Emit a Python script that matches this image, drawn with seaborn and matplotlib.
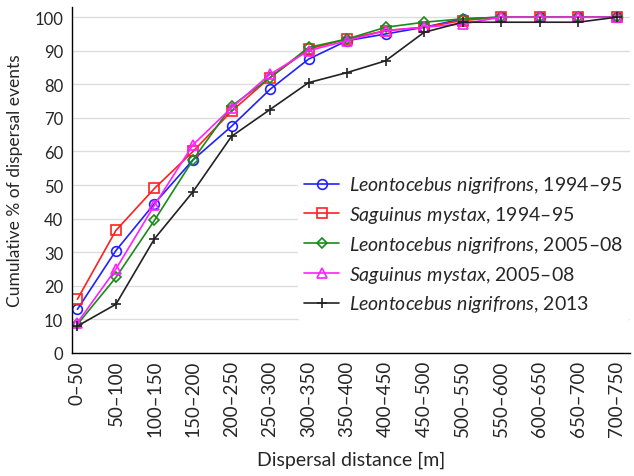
import pandas as pd
import numpy as np
import matplotlib
matplotlib.use('Agg')
import matplotlib.pyplot as plt
import seaborn as sns

# distance classes
bins = ['0–50', '50–100', '100–150', '150–200', '200–250', '250–300', '300–350',
        '350–400', '400–450', '450–500', '500–550', '550–600', '600–650',
        '650–700', '700–750']

# cumulative % of dispersal events
ln_9495 = [13, 30.5, 44.5, 57.5, 67.5, 78.5, 87.5, 93, 95, 97, 99.5, 100, 100, 100, 100]
sm_9495 = [16, 36.5, 49, 60, 72, 82, 90.5, 93.5, 96, 97, 99, 100, 100, 100, 100]
ln_0508 = [8.5, 22.5, 39.5, 57.5, 73.5, 82, 91, 93.5, 97, 98.5, 99.5, 100, 100, 100, 100]
sm_0508 = [9, 25, 44, 62, 73, 83, 90, 93, 96, 97, 98, 100, 100, 100, 100]
ln_2013 = [8, 14.5, 34, 48, 64.5, 72.5, 80.5, 83.5, 87, 95.5, 98.5, 98.5, 98.5, 98.5, 100]

series = [
    (r'$\mathit{Leontocebus\ nigrifrons}$, 1994–95', ln_9495, '#2020ff', 'o'),
    (r'$\mathit{Saguinus\ mystax}$, 1994–95', sm_9495, '#ff2020', 's'),
    (r'$\mathit{Leontocebus\ nigrifrons}$, 2005–08', ln_0508, '#1a8a1a', 'D'),
    (r'$\mathit{Saguinus\ mystax}$, 2005–08', sm_0508, '#ff20ff', '^'),
    (r'$\mathit{Leontocebus\ nigrifrons}$, 2013', ln_2013, '#222222', '+'),
]

sns.set_style('white')
plt.rcParams['font.family'] = ['Lato', 'DejaVu Sans']
plt.rcParams['mathtext.fontset'] = 'custom'
plt.rcParams['mathtext.it'] = 'Lato:italic'
plt.rcParams['mathtext.rm'] = 'Lato'

fig = plt.figure(figsize=(6.34, 4.77), dpi=100)
ax = fig.add_axes([0.113, 0.258, 0.881, 0.725])

x = np.arange(len(bins))
for label, vals, col, mk in series:
    df = pd.DataFrame({'x': x, 'y': vals})
    ms = 5.5 if mk == 'D' else 7
    sns.lineplot(data=df, x='x', y='y', ax=ax, color=col, marker=mk, markersize=ms,
                 markerfacecolor='none', markeredgecolor=col, markeredgewidth=1.2,
                 linewidth=1.2, label=label)

ax.set_xlim(-0.15, 14.35)
ax.set_ylim(0, 103)
ax.set_yticks(range(0, 101, 10))
ax.set_xticks(x)
ax.set_xticklabels(bins, rotation=90, fontsize=13.5)
ax.tick_params(axis='y', labelsize=12, length=0, pad=6)
ax.tick_params(axis='x', direction='in', length=4, width=1, pad=5)
ax.yaxis.grid(True, color='#dddddd', linewidth=1)
ax.set_axisbelow(True)
for s in ['top', 'right']:
    ax.spines[s].set_visible(False)
for s in ['left', 'bottom']:
    ax.spines[s].set_color('black')
    ax.spines[s].set_linewidth(1)

ax.set_xlabel('Dispersal distance [m]', fontsize=14, labelpad=10)
ax.set_ylabel('Cumulative % of dispersal events', fontsize=12.5, labelpad=8)

leg = ax.legend(loc='upper left', bbox_to_anchor=(0.455, 0.665), bbox_transform=fig.transFigure,
                frameon=True, framealpha=1, edgecolor='white', fontsize=14,
                handlelength=1.8, handletextpad=0.5, borderpad=0.3, labelspacing=0.45)

fig.savefig('out.png', dpi=100)
